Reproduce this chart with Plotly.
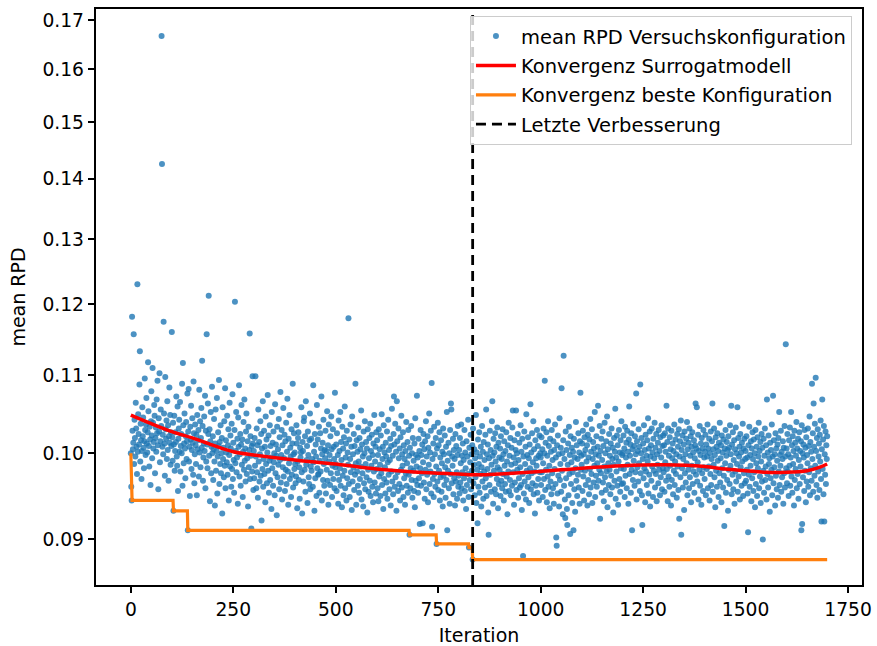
import numpy as np
import plotly.graph_objects as go

# mean RPD per iteration (iterations 0..1699), in units of 1e-4
rpd_e4 = [
1000, 960, 944, 1182, 1028, 1005, 1013, 1157, 987, 1042, 1019, 996, 1064, 1031, 1008, 975, 1230, 1002, 1049, 1024,
1011, 1088, 1133, 990, 1037, 1016, 969, 1003, 1058, 1021, 1045, 1007, 982, 1015, 1096, 1029, 998, 1036, 1070, 1012,
1001, 1026, 1118, 1053, 1009, 984, 1033, 1017, 962, 1040, 1079, 1022, 994, 1110, 1038, 1006, 1014, 1061, 1047, 976,
1019, 1032, 1002, 1068, 1025, 1093, 1010, 957, 1044, 1027, 1103, 989, 1015, 1055, 1034, 1667, 1425, 1008, 1023, 999,
1175, 1050, 1012, 973, 1098, 1030, 1018, 1041, 993, 1066, 1004, 1035, 967, 1021, 1084, 1013, 1048, 986, 1026, 1009,
1160, 1020, 991, 1038, 932, 1011, 1047, 979, 1003, 1026, 1014, 1072, 996, 985, 1059, 955, 1018, 1031, 1042, 1002,
1065, 978, 1009, 1024, 1000, 1089, 961, 1117, 1035, 988, 1012, 1050, 1006, 970, 1021, 1039, 993, 1015, 1076, 910,
1027, 1082, 990, 1008, 949, 1033, 1017, 1060, 981, 1004, 1044, 1013, 974, 1092, 1025, 964, 999, 1036, 1010, 987,
1023, 950, 1048, 1005, 1016, 1029, 972, 1081, 1001, 1040, 983, 1019, 1057, 1007, 1120, 1034, 967, 995, 1012, 1046,
1003, 1073, 958, 1028, 990, 1157, 1011, 982, 1063, 1024, 1213, 997, 1030, 943, 1015, 1052, 976, 1008, 1085, 1000,
1021, 968, 1005, 1043, 990, 938, 1012, 1055, 979, 1003, 1070, 952, 996, 1026, 1009, 1094, 963, 1014, 987, 1035,
976, 1000, 1019, 929, 1058, 993, 1007, 971, 1040, 985, 1083, 958, 1016, 1001, 989, 1047, 974, 1010, 1030, 944,
998, 1064, 984, 1022, 1006, 960, 1037, 981, 1075, 969, 1013, 992, 953, 1029, 1204, 988, 1003, 1052, 977, 995,
1018, 940, 1045, 1008, 1087, 972, 999, 1024, 961, 1011, 1061, 986, 1017, 948, 1002, 1039, 980, 1068, 991, 1006,
966, 1027, 1050, 975, 994, 1015, 937, 1033, 983, 1004, 1158, 969, 1021, 997, 912, 1009, 978, 1099, 1012, 956,
1003, 970, 1019, 985, 1099, 996, 958, 1031, 977, 1010, 947, 1055, 990, 1014, 966, 999, 1040, 973, 1024, 921,
1006, 981, 1066, 960, 993, 1028, 975, 1008, 942, 1046, 987, 1017, 964, 1001, 1074, 979, 1022, 953, 991, 1035,
968, 1009, 995, 934, 1052, 982, 1013, 961, 1027, 989, 1000, 950, 1062, 976, 1011, 997, 927, 1033, 971, 1005,
986, 1043, 957, 1020, 992, 1078, 965, 998, 1029, 945, 1010, 983, 1057, 972, 994, 1023, 955, 1015, 980, 1038,
963, 1002, 1069, 978, 939, 1018, 988, 1048, 969, 1007, 996, 948, 1030, 974, 1012, 1089, 959, 999, 1025, 981,
1001, 987, 964, 972, 1035, 1012, 935, 990, 1019, 1026, 968, 983, 946, 1007, 995, 1001, 1058, 977, 929, 1014,
1003, 966, 1040, 1045, 980, 1021, 954, 1066, 986, 992, 1009, 941, 1027, 998, 971, 963, 1016, 1050, 957, 984,
1018, 979, 993, 1038, 960, 1087, 989, 1002, 932, 1024, 970, 1011, 996, 949, 1061, 982, 1017, 974, 975, 1033,
953, 991, 1025, 978, 1006, 1072, 944, 999, 1013, 968, 1042, 987, 961, 1004, 994, 1028, 952, 1003, 980, 1053,
967, 1010, 939, 1036, 990, 998, 962, 1021, 976, 1046, 1005, 948, 985, 1030, 969, 1008, 993, 958, 1077, 983,
987, 1011, 955, 1025, 976, 998, 940, 1041, 968, 1003, 982, 1052, 961, 1014, 992, 936, 1033, 973, 1006, 950,
1020, 979, 1059, 958, 995, 1012, 944, 1028, 970, 1001, 986, 1180, 963, 1017, 948, 993, 1036, 977, 1008, 933,
1046, 966, 999, 983, 1024, 956, 1009, 974, 1089, 988, 939, 1016, 978, 1002, 961, 1032, 990, 953, 1019, 969,
1005, 984, 1054, 945, 1011, 976, 996, 937, 1027, 964, 1000, 1040, 957, 987, 1014, 971, 1006, 930, 1030, 980,
954, 994, 1019, 967, 1037, 949, 1003, 985, 1023, 960, 998, 942, 1012, 978, 1048, 965, 990, 1008, 952, 1026,
981, 1016, 958, 998, 943, 1030, 972, 1005, 986, 949, 1022, 976, 1049, 962, 993, 1008, 934, 1035, 969, 1001,
983, 952, 1013, 996, 965, 1027, 946, 989, 1042, 974, 1004, 957, 992, 1018, 938, 1009, 978, 1056, 966, 997,
951, 1024, 1072, 1011, 960, 1037, 971, 1002, 932, 1066, 1015, 977, 955, 1031, 994, 963, 1006, 944, 1020, 980,
1047, 959, 999, 985, 1026, 948, 1010, 970, 993, 939, 1003, 976, 1039, 961, 988, 1014, 953, 1029, 974, 997,
905, 1007, 958, 982, 1034, 968, 1000, 947, 1019, 979, 991, 955, 1012, 936, 1044, 967, 998, 984, 1073, 962,
995, 953, 1018, 970, 1003, 917, 982, 1029, 961, 998, 976, 1011, 918, 989, 1024, 965, 1005, 946, 1015, 980,
1040, 957, 996, 974, 1021, 942, 1007, 986, 1050, 963, 1001, 978, 1028, 952, 1090, 914, 993, 969, 1012, 948,
1033, 975, 999, 960, 1019, 984, 895, 1006, 966, 1038, 956, 1010, 979, 1026, 944, 995, 971, 1016, 954, 988,
1002, 937, 1031, 973, 999, 962, 1022, 983, 947, 1008, 968, 1052, 910, 991, 979, 1013, 958, 1000, 940, 1029,
975, 1063, 1055, 964, 996, 985, 1018, 951, 1004, 970, 993, 938, 1024, 966, 1009, 977, 946, 998, 1034, 960,
973, 1004, 952, 1019, 965, 988, 1036, 958, 997, 977, 1012, 944, 992, 970, 1029, 955, 1001, 982, 934, 1015,
962, 996, 975, 1042, 948, 891, 1007, 968, 989, 1023, 957, 999, 979, 1010, 878, 1031, 964, 986, 1005, 950,
994, 971, 1048, 941, 1001, 980, 918, 1017, 960, 987, 1026, 953, 996, 975, 1008, 937, 983, 1034, 966, 1002,
946, 1014, 978, 992, 959, 1023, 970, 1055, 949, 999, 981, 1011, 930, 905, 994, 962, 1028, 974, 1004, 954,
986, 1040, 1066, 997, 940, 1018, 979, 1001, 957, 1025, 990, 951, 1008, 969, 1032, 983, 935, 1013, 963, 995,
980, 1006, 949, 1021, 967, 993, 958, 1030, 975, 999, 944, 1015, 985, 963, 1003, 954, 1026, 972, 990, 928,
1010, 978, 1038, 955, 997, 968, 1019, 950, 986, 1007, 961, 1032, 1054, 977, 995, 939, 1016, 965, 988, 1004,
1054, 956, 1000, 980, 1024, 947, 992, 970, 1013, 959, 983, 1035, 962, 1002, 933, 1018, 975, 882, 996, 952,
1027, 966, 987, 1008, 945, 1049, 979, 998, 960, 1020, 971, 994, 941, 1011, 982, 1062, 957, 1001, 976, 1025,
964, 989, 1040, 951, 1005, 978, 929, 1016, 961, 994, 985, 1029, 953, 1009, 969, 997, 944, 1022, 977, 1000,
995, 962, 1020, 977, 1005, 948, 988, 1031, 969, 1000, 1093, 956, 1013, 980, 1026, 942, 997, 972, 1040, 960,
1009, 985, 935, 1018, 966, 1002, 951, 1029, 976, 992, 958, 1015, 940, 1004, 981, 1036, 963, 995, 902, 893,
1010, 952, 1022, 973, 999, 937, 1044, 968, 987, 1007, 954, 1083, 979, 1000, 928, 1016, 1127, 961, 993, 945,
924, 1027, 970, 1004, 934, 916, 986, 1012, 950, 1033, 975, 998, 906, 1021, 963, 989, 1007, 941, 977, 1002,
910, 1018, 957, 995, 931, 982, 1039, 967, 1010, 949, 993, 974, 1025, 959, 1001, 940, 1015, 1077, 980, 997,
986, 1012, 955, 1028, 972, 999, 944, 1020, 979, 1004, 962, 1036, 990, 1010, 938, 1023, 968, 995, 951, 1017,
981, 1043, 959, 1002, 975, 1030, 941, 993, 1014, 965, 1006, 985, 1052, 948, 999, 973, 1021, 960, 988, 1008,
1060, 967, 997, 980, 1034, 923, 1003, 976, 1018, 953, 992, 1027, 965, 1009, 943, 984, 1038, 971, 1000, 956,
1015, 978, 1046, 936, 1005, 988, 962, 1024, 980, 997, 951, 1012, 973, 1031, 959, 993, 1007, 930, 986, 1019,
967, 1002, 1056, 946, 995, 978, 1022, 961, 1010, 939, 990, 1029, 969, 1001, 954, 1016, 982, 1040, 963, 998,
1000, 964, 1022, 981, 1006, 948, 1033, 973, 995, 1013, 958, 1028, 986, 1002, 940, 1017, 1059, 975, 997, 1011,
953, 1025, 980, 910, 1005, 968, 1037, 991, 1009, 961, 1021, 977, 999, 1076, 945, 1015, 983, 1003, 966, 1030,
988, 1008, 955, 1088, 976, 1000, 1019, 950, 916, 993, 1012, 970, 1035, 982, 1004, 942, 1023, 978, 997, 962,
1016, 990, 1044, 952, 1006, 974, 1027, 937, 996, 1010, 967, 1031, 984, 1001, 948, 1018, 979, 994, 1038, 959,
1007, 975, 1024, 943, 999, 986, 1013, 964, 1029, 980, 1003, 950, 1020, 971, 995, 1035, 957, 1009, 982, 1022,
977, 1010, 954, 1025, 989, 1002, 967, 1060, 981, 1014, 943, 1031, 972, 997, 960, 1020, 985, 1005, 938, 1028,
968, 994, 1012, 951, 1003, 979, 1036, 962, 990, 1017, 975, 999, 947, 1024, 984, 1008, 956, 1030, 923, 996,
1015, 971, 1041, 905, 1004, 982, 1022, 959, 993, 1011, 933, 1027, 976, 999, 965, 1018, 988, 1039, 950, 1005,
980, 1013, 958, 1031, 971, 997, 1021, 942, 1008, 985, 1026, 963, 1001, 978, 1016, 953, 994, 1010, 1063, 974,
1006, 1058, 966, 989, 1023, 945, 1003, 980, 1034, 961, 998, 1012, 939, 1019, 976, 1006, 955, 1029, 983, 995,
969, 1002, 1023, 950, 1011, 981, 996, 1036, 958, 1006, 984, 1018, 944, 1000, 975, 1027, 962, 993, 1015, 1063,
954, 1005, 986, 1031, 971, 998, 936, 1020, 979, 1008, 960, 1025, 991, 1003, 948, 1013, 976, 1038, 965, 994,
1010, 942, 1022, 982, 1001, 959, 1017, 973, 915, 1006, 988, 1029, 953, 997, 1014, 968, 1004, 932, 1021, 980,
1007, 963, 1035, 985, 999, 1060, 951, 1011, 974, 1026, 957, 992, 1016, 940, 1005, 978, 1032, 966, 1000, 987,
1058, 954, 1019, 972, 996, 1008, 945, 1024, 983, 1001, 961, 1013, 990, 1037, 949, 1006, 976, 1018, 964, 993,
1003, 967, 1021, 980, 995, 952, 908, 1010, 974, 1033, 960, 998, 985, 1015, 943, 1006, 970, 1026, 993, 955,
1017, 977, 1000, 936, 1029, 963, 988, 1008, 949, 1020, 982, 996, 1038, 958, 1003, 972, 1014, 941, 990, 1024,
966, 1007, 900, 979, 1018, 953, 997, 1031, 968, 984, 1010, 945, 1068, 975, 1001, 959, 1022, 987, 994, 931,
1013, 970, 1004, 980, 1036, 950, 996, 1073, 964, 1016, 983, 999, 938, 1025, 973, 1006, 957, 991, 1011, 947,
1019, 978, 1052, 962, 998, 985, 1028, 954, 1002, 971, 993, 1015, 940, 1007, 976, 1034, 959, 996, 1143, 982,
1006, 964, 1024, 978, 999, 949, 1016, 985, 1032, 961, 995, 1052, 972, 1010, 953, 1021, 987, 1003, 938, 1028,
968, 1013, 981, 997, 1039, 958, 1006, 975, 1018, 946, 992, 1026, 963, 1003, 984, 1015, 910, 1035, 917, 1000,
971, 1011, 995, 955, 1029, 979, 1007, 942, 1020, 966, 998, 988, 1031, 960, 1009, 977, 1046, 950, 1014, 982,
1002, 967, 1089, 993, 1025, 954, 1063, 1008, 973, 1037, 985, 1097, 1003, 962, 1019, 947, 1030, 978, 996, 1012,
956, 1023, 990, 1041, 969, 920, 1005, 1068, 981, 1017, 951, 1034, 920, 999, 974, 1027, 963, 1010, 993, 1021,
]

# surrogate model convergence
sur_iter = [0, 50, 100, 150, 200, 250, 300, 400, 500, 600, 700, 800, 850, 900,
            1000, 1100, 1200, 1300, 1400, 1450, 1500, 1550, 1600, 1650, 1680, 1699]
sur_val = [0.1048, 0.1037, 0.1027, 0.1019, 0.1010, 0.1002, 0.0998, 0.0992, 0.0987, 0.0981,
           0.0977, 0.0975, 0.0974, 0.0975, 0.0978, 0.0982, 0.0985, 0.0986, 0.0984, 0.0981,
           0.0979, 0.0977, 0.0977, 0.0979, 0.0983, 0.0987]

y_ticks = [0.09, 0.10, 0.11, 0.12, 0.13, 0.14, 0.15, 0.16, 0.17]
y_ticktext = ["0.09", "0.10", "0.11", "0.12", "0.13", "0.14", "0.15", "0.16", "0.17"]
x_ticks = [0, 250, 500, 750, 1000, 1250, 1500, 1750]

rpd = np.array(rpd_e4) / 10000.0
iters = np.arange(len(rpd))
best = np.minimum.accumulate(rpd)
last_impr = int(np.nonzero(np.diff(best) < 0)[0][-1] + 1)

TICKFONT = dict(family="DejaVu Sans", size=18.7, color="black")
TITLEFONT = dict(family="DejaVu Sans", size=19, color="black")

fig = go.Figure()
fig.add_trace(go.Scatter(
    x=iters, y=rpd, mode="markers", name="mean RPD Versuchskonfiguration",
    marker=dict(color="#1f77b4", size=6, opacity=0.8, line=dict(width=0)),
    legendgroup="a"))
fig.add_trace(go.Scatter(
    x=sur_iter, y=sur_val, mode="lines", name="Konvergenz Surrogatmodell",
    line=dict(color="red", width=3.5, shape="spline"), legendgroup="b"))
fig.add_trace(go.Scatter(
    x=iters, y=best, mode="lines", name="Konvergenz beste Konfiguration",
    line=dict(color="#ff7f0e", width=3.2), legendgroup="c"))
fig.add_trace(go.Scatter(
    x=[None], y=[None], mode="lines", name="Letzte Verbesserung",
    line=dict(color="black", width=2.8, dash="10px,6px"), legendgroup="d"))
fig.add_vline(x=last_impr, line=dict(color="black", width=2.8, dash="10px,6px"))

fig.update_layout(
    width=877, height=646,
    margin=dict(l=96, r=15, t=9, b=61),
    paper_bgcolor="white", plot_bgcolor="white",
    font=TICKFONT,
    showlegend=True,
    legend=dict(
        x=0.9869, y=0.988, xanchor="right", yanchor="top",
        bgcolor="rgba(255,255,255,0.8)", bordercolor="#cccccc", borderwidth=1,
        font=dict(family="DejaVu Sans", size=19.5, color="black"),
        tracegroupgap=1, itemwidth=40,
    ),
)
fig.update_xaxes(
    range=[-85, 1784], tickvals=x_ticks, ticks="outside", ticklen=6.5, tickwidth=1.5,
    tickcolor="black", showline=True, linecolor="black", linewidth=1.5, mirror=True,
    showgrid=False, zeroline=False, tickfont=TICKFONT, automargin=False,
    title=dict(text="Iteration", font=TITLEFONT, standoff=10),
)
fig.update_yaxes(
    type="log", range=[np.log10(0.08511), np.log10(0.1723)],
    tickvals=y_ticks, ticktext=y_ticktext, ticks="outside", ticklen=6.5, tickwidth=1.5,
    tickcolor="black", showline=True, linecolor="black", linewidth=1.5, mirror=True,
    showgrid=False, zeroline=False, tickfont=TICKFONT, automargin=False,
    title=dict(text="mean RPD", font=TITLEFONT, standoff=12),
)

fig.write_html("out.html")
